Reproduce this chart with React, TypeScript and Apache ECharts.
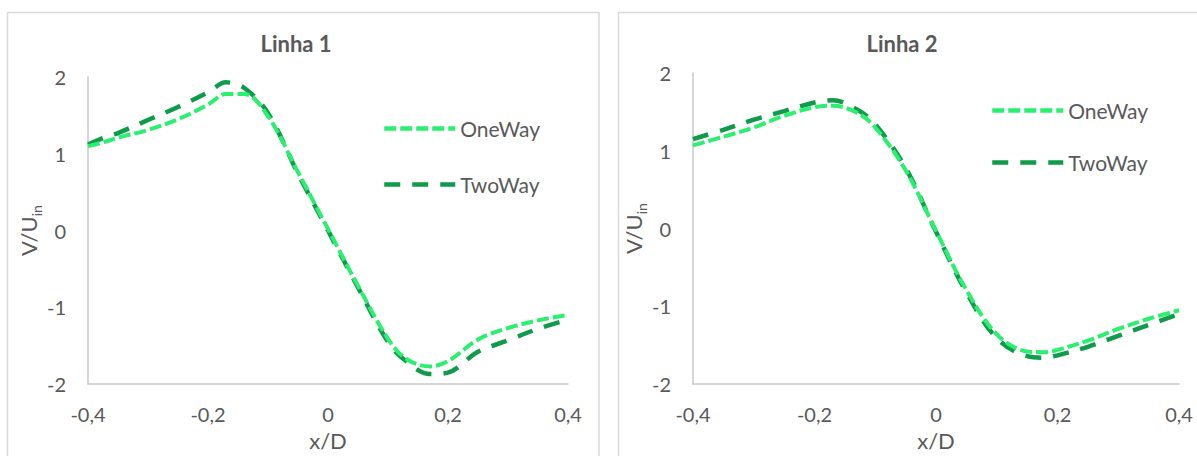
import React, { useEffect, useRef } from "react";
import * as echarts from "echarts";

const xTicks = [-0.4, -0.2, 0, 0.2, 0.4];
const yTicks = [-2, -1, 0, 1, 2];

const titles = ["Linha 1", "Linha 2"];
const seriesNames = ["OneWay", "TwoWay"];

const xLinha1 = [-0.4, -0.37, -0.35, -0.3, -0.25, -0.2, -0.17, -0.14, -0.1, -0.05, 0, 0.05, 0.1, 0.13, 0.17, 0.2, 0.25, 0.3, 0.35, 0.4];
const oneWay1 = [1.1, 1.16, 1.21, 1.31, 1.45, 1.64, 1.78, 1.78, 1.49, 0.76, 0.02, -0.72, -1.41, -1.67, -1.77, -1.7, -1.42, -1.27, -1.17, -1.1];
const twoWay1 = [1.12, 1.22, 1.27, 1.44, 1.61, 1.8, 1.93, 1.86, 1.53, 0.74, 0.0, -0.74, -1.45, -1.7, -1.87, -1.85, -1.58, -1.43, -1.28, -1.16];

const xLinha2 = [-0.4, -0.35, -0.3, -0.25, -0.2, -0.17, -0.13, -0.1, -0.05, 0, 0.05, 0.1, 0.15, 0.18, 0.2, 0.25, 0.3, 0.35, 0.4];
const oneWay2 = [1.07, 1.18, 1.3, 1.45, 1.56, 1.58, 1.49, 1.3, 0.75, -0.03, -0.79, -1.36, -1.58, -1.59, -1.56, -1.44, -1.29, -1.16, -1.05];
const twoWay2 = [1.15, 1.27, 1.4, 1.51, 1.62, 1.65, 1.53, 1.34, 0.78, -0.04, -0.82, -1.41, -1.64, -1.66, -1.63, -1.52, -1.38, -1.24, -1.1];

const ONE_COLOR = "#2BEF6E";
const TWO_COLOR = "#0E9B4A";
const TEXT = "#595959";
const AXIS = "#c8c8c8";
const FONT = "Lato";

const pairs = (xs: number[], ys: number[]) => xs.map((x, i) => [x, ys[i]]);
const fmtX = (v: number) => String(Math.round(v * 10) / 10).replace(".", ",");

export default function App() {
  const ref = useRef<HTMLDivElement>(null);
  useEffect(() => {
    if (!ref.current) return;
    const chart = echarts.init(ref.current, undefined, { renderer: "svg" });

    const grids = [
      { left: 88, top: 77, width: 480, height: 316 },
      { left: 693, top: 73, width: 486, height: 316 },
    ];
    const yGap = [42, 36];
    const legendPos = [
      { left: 377, top: 113, gap: 35 },
      { left: 985, top: 95, gap: 31 },
    ];
    const titlePos = [291, 897];
    const data = [
      [pairs(xLinha1, oneWay1), pairs(xLinha1, twoWay1)],
      [pairs(xLinha2, oneWay2), pairs(xLinha2, twoWay2)],
    ];

    const lineStyles = [
      { color: ONE_COLOR, width: 4, type: [12, 4] },
      { color: TWO_COLOR, width: 4.5, type: [16, 12] },
    ];

    const series: any[] = [];
    data.forEach((pair, gi) => {
      pair.forEach((d, si) => {
        series.push({
          type: "line",
          name: seriesNames[si],
          xAxisIndex: gi,
          yAxisIndex: gi,
          data: d,
          smooth: 0.35,
          symbol: "none",
          showSymbol: false,
          color: lineStyles[si].color,
          lineStyle: lineStyles[si],
          z: si === 0 ? 3 : 2,
        });
      });
    });

    chart.setOption({
      animation: false,
      backgroundColor: "#ffffff",
      title: titles.map((t, i) => ({
        text: t,
        left: titlePos[i],
        top: 27,
        textAlign: "center",
        textStyle: { fontFamily: FONT, fontSize: 22, fontWeight: "bold", color: TEXT },
      })),
      legend: legendPos.map((p) => ({
        data: seriesNames,
        orient: "vertical",
        left: p.left,
        top: p.top,
        itemGap: p.gap,
        itemWidth: 71,
        itemHeight: 14,
        selectedMode: false,
        itemStyle: { opacity: 0 },
        lineStyle: { width: 4.5 },
        textStyle: { fontFamily: FONT, fontSize: 21, color: TEXT },
      })),
      grid: grids,
      xAxis: grids.map((_, i) => ({
        type: "value",
        gridIndex: i,
        min: xTicks[0],
        max: xTicks[xTicks.length - 1],
        interval: 0.2,
        name: "x/D",
        nameLocation: "middle",
        nameGap: 32,
        nameTextStyle: { fontFamily: FONT, fontSize: 22, color: TEXT },
        axisLine: { onZero: false, lineStyle: { color: AXIS, width: 1.5 } },
        axisTick: { show: false },
        splitLine: { show: false },
        axisLabel: { formatter: fmtX, margin: 20, fontFamily: FONT, fontSize: 20, color: TEXT },
      })),
      yAxis: grids.map((_, i) => ({
        type: "value",
        gridIndex: i,
        min: yTicks[0],
        max: yTicks[yTicks.length - 1],
        interval: 1,
        name: "{a|V/U}{b|in}",
        nameLocation: "middle",
        nameGap: yGap[i],
        nameTextStyle: {
          color: TEXT,
          fontFamily: FONT,
          lineHeight: 26,
          rich: {
            a: { fontFamily: FONT, fontSize: 22, color: TEXT, verticalAlign: "top", lineHeight: 26 },
            b: { fontFamily: FONT, fontSize: 14, color: TEXT, verticalAlign: "bottom", lineHeight: 26 },
          },
        },
        axisLine: { show: true, onZero: false, lineStyle: { color: AXIS, width: 1.5 } },
        axisTick: { show: false },
        splitLine: { show: false },
        axisLabel: { margin: 22, fontFamily: FONT, fontSize: 20, color: TEXT },
      })),
      graphic: [
        {
          type: "rect",
          shape: { x: 7.5, y: 12.5, width: 591.5, height: 470 },
          style: { fill: "none", stroke: "#d9d9d9", lineWidth: 1.5 },
          silent: true,
          z: -1,
        },
        {
          type: "rect",
          shape: { x: 618.5, y: 12.5, width: 600, height: 470 },
          style: { fill: "none", stroke: "#d9d9d9", lineWidth: 1.5 },
          silent: true,
          z: -1,
        },
      ],
      series,
    });
    return () => chart.dispose();
  }, []);

  return (
    <div
      ref={ref}
      style={{ position: "fixed", left: 0, top: 0, width: 1197, height: 456, background: "#fff" }}
    />
  );
}
